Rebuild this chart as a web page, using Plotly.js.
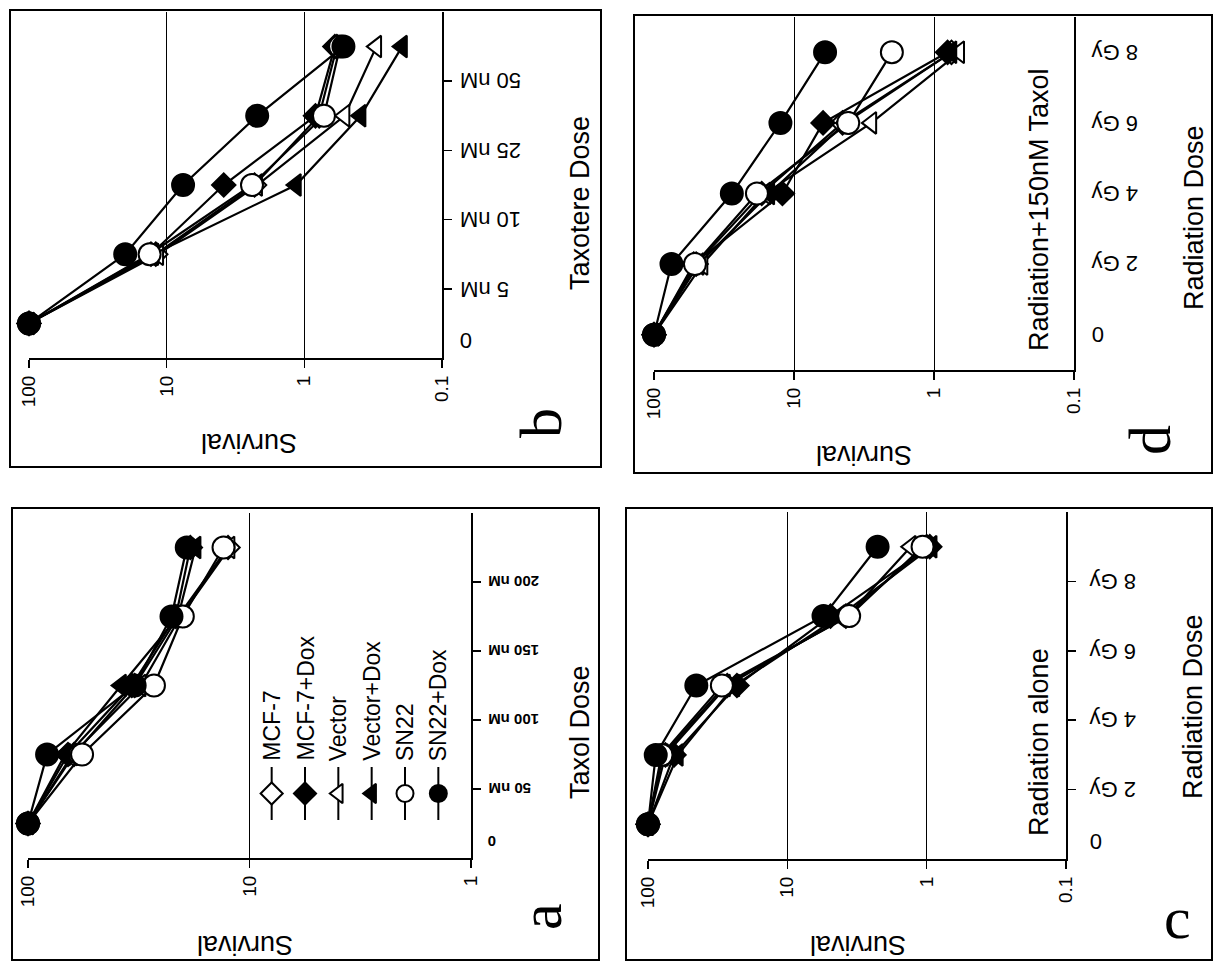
<!DOCTYPE html>
<html><head>
<script src="https://cdn.plot.ly/plotly-3.0.1.min.js"></script>
<style>body{margin:0;background:#fff}</style>
</head><body>
<div id="chart" style="width:1214px;height:967px"></div>
<script>
// ---------------- data ----------------
const seriesNames = ["MCF-7", "MCF-7+Dox", "Vector", "Vector+Dox", "SN22", "SN22+Dox"];

// panel a: Taxol
const taxolLabels = ["0", "50 nM", "100 nM", "150 nM", "200 nM"];
const taxol_MCF7      = [100, 62, 33, 21, 12.5];
const taxol_MCF7Dox   = [100, 66, 34, 21.5, 18.5];
const taxol_Vector    = [100, 63, 31, 20.5, 12.3];
const taxol_VectorDox = [100, 68, 38, 21, 17.5];
const taxol_SN22      = [100, 57, 27, 20, 13.1];
const taxol_SN22Dox   = [100, 82, 33, 22.5, 19.2];

// panel b: Taxotere
const taxotereLabels = ["0", "5 nM", "10 nM", "25 nM", "50 nM"];
const taxotere_MCF7      = [100, 12, 2.3, 0.78, 0.58];
const taxotere_MCF7Dox   = [100, 13, 3.85, 0.83, 0.6];
const taxotere_Vector    = [100, 11.5, 2.2, 0.51, 0.30];
const taxotere_VectorDox = [100, 12.5, 1.15, 0.39, 0.195];
const taxotere_SN22      = [100, 13.3, 2.4, 0.72, 0.55];
const taxotere_SN22Dox   = [100, 20, 7.6, 2.2, 0.52];

// panel c: Radiation alone
const radLabels = ["0", "2 Gy", "4 Gy", "6 Gy", "8 Gy"];
const rad_MCF7      = [100, 75, 27, 3.8, 1.0];
const rad_MCF7Dox   = [100, 65, 23, 4.9, 0.95];
const rad_Vector    = [100, 78, 28, 3.7, 1.3];
const rad_VectorDox = [100, 61, 24, 4.2, 0.92];
const rad_SN22      = [100, 80, 29.5, 3.6, 1.07];
const rad_SN22Dox   = [100, 88, 45, 5.5, 2.25];

// panel d: Radiation + 150nM Taxol
const radTax_MCF7      = [100, 50, 17, 4.5, 0.75];
const radTax_MCF7Dox   = [100, 52, 12.1, 6.2, 0.8];
const radTax_Vector    = [100, 45, 16, 2.8, 0.66];
const radTax_VectorDox = [100, 48, 15, 4.3, 0.75];
const radTax_SN22      = [100, 51, 18.4, 4.1, 2.0];
const radTax_SN22Dox   = [100, 75, 27.8, 12.5, 6.0];

const survTicks = [100, 10, 1, 0.1];
const survTickText = ["100", "10", "1", "0.1"];

// ---------------- styles ----------------
const symbols = ["diamond", "diamond", "triangle-left", "triangle-left", "circle", "circle"];
const fills   = ["white", "black", "white", "black", "white", "black"];
const msizes  = [18, 18, 19, 19, 22, 22];
const FONT = "Liberation Sans, Arial, sans-serif";
const SERIF = "Liberation Serif, Times New Roman, serif";
const W = 1214, H = 967;
const px = v => v / W;
const py = v => 1 - v / H;
const dX = (a, b) => [a / W, b / W];
const dY = (top, bot) => [1 - bot / H, 1 - top / H];

const panels = [
  {id: "", labels: taxotereLabels, vals: [taxotere_MCF7, taxotere_MCF7Dox, taxotere_Vector, taxotere_VectorDox, taxotere_SN22, taxotere_SN22Dox],
   xd: dX(29, 442), yd: dY(12, 358), range: [2, -1], offset: true, tickSize: 22, bold: false, lshift: 16},
  {id: "2", labels: radLabels, vals: [radTax_MCF7, radTax_MCF7Dox, radTax_Vector, radTax_VectorDox, radTax_SN22, radTax_SN22Dox],
   xd: dX(654, 1074), yd: dY(17, 370), range: [2, -1], offset: false, tickSize: 22, bold: false, lshift: 16},
  {id: "3", labels: taxolLabels, vals: [taxol_MCF7, taxol_MCF7Dox, taxol_Vector, taxol_VectorDox, taxol_SN22, taxol_SN22Dox],
   xd: dX(28, 471), yd: dY(513, 858), range: [2, 0], offset: true, tickSize: 15, bold: true, lshift: 15},
  {id: "4", labels: radLabels, vals: [rad_MCF7, rad_MCF7Dox, rad_Vector, rad_VectorDox, rad_SN22, rad_SN22Dox],
   xd: dX(648, 1066), yd: dY(512, 859), range: [2, -1], offset: true, tickSize: 22, bold: false, lshift: 22}
];

const traces = [];
const layout = {
  width: W, height: H, margin: {l: 0, r: 0, t: 0, b: 0},
  paper_bgcolor: "white", plot_bgcolor: "rgba(0,0,0,0)",
  showlegend: false, font: {family: FONT, color: "black"},
  annotations: [], shapes: []
};

panels.forEach(p => {
  const idx = p.labels.map((_, i) => i);
  p.vals.forEach((v, s) => {
    traces.push({
      type: "scatter", mode: "lines+markers", name: seriesNames[s],
      x: v, y: idx, xaxis: "x" + p.id, yaxis: "y" + p.id,
      line: {color: "black", width: 2.2},
      marker: {symbol: symbols[s], size: msizes[s], color: fills[s], line: {color: "black", width: 2}},
      cliponaxis: false
    });
  });
  const sv = survTicks.filter(t => Math.log10(t) >= Math.min(...p.range) - 1e-9);
  const st = sv.map(t => survTickText[survTicks.indexOf(t)]);
  layout["xaxis" + p.id] = {
    type: "log", range: p.range, domain: p.xd, anchor: "y" + p.id,
    tickmode: "array", tickvals: sv, ticktext: st, tickangle: -90,
    ticks: "outside", ticklen: 8, tickwidth: 1.5, tickcolor: "black",
    showgrid: true, gridcolor: "black", gridwidth: 1,
    showline: true, linecolor: "black", linewidth: 2, zeroline: false,
    tickfont: {size: 19, family: FONT, color: "black"}, fixedrange: true
  };
  const tv = p.offset ? idx.map(i => i === 0 ? -0.25 : i - 0.5) : idx;
  const ya = {
    range: [-0.5, 4.5], domain: p.yd, anchor: "x" + p.id, side: "right",
    showline: true, linecolor: "black", linewidth: 2, showgrid: false, zeroline: false,
    tickmode: "array", tickvals: tv, ticktext: p.labels, showticklabels: false, ticks: "",
    fixedrange: true
  };
  if (p.offset) {
    ya.minor = {tickmode: "array", tickvals: idx.slice(1).map(i => i - 0.5), ticks: "outside", ticklen: 8, tickwidth: 1.5, tickcolor: "black"};
  }
  layout["yaxis" + p.id] = ya;
  // dose tick labels, rotated 180 degrees, anchored at their left edge
  p.labels.forEach((lab, i) => {
    layout.annotations.push({
      xref: "x" + p.id + " domain", yref: "y" + p.id, x: 1, y: tv[i], xshift: p.lshift,
      text: p.bold ? "<b>" + lab + "</b>" : lab, showarrow: false, textangle: 180,
      xanchor: "left", yanchor: "middle",
      font: {size: p.tickSize, family: FONT, color: "black"}
    });
  });
});

// legend (inside panel a) on its own hidden axes
seriesNames.forEach((nm, s) => {
  traces.push({
    type: "scatter", mode: "lines", x: [s, s], y: [-1, 1],
    xaxis: "x5", yaxis: "y5", hoverinfo: "skip",
    line: {color: "black", width: 2}
  });
  traces.push({
    type: "scatter", mode: "markers", x: [s], y: [0],
    xaxis: "x5", yaxis: "y5", hoverinfo: "skip",
    marker: {symbol: symbols[s], size: 17, color: fills[s], line: {color: "black", width: 2}}
  });
  layout.annotations.push({
    xref: "x5", yref: "y5", x: s, y: 1, yshift: 4, text: nm, showarrow: false,
    textangle: -90, xanchor: "center", yanchor: "bottom",
    font: {size: 23, family: FONT, color: "black"}
  });
});
layout.xaxis5 = {domain: dX(255, 455), range: [-0.5, 5.5], visible: false, fixedrange: true, anchor: "y5"};
layout.yaxis5 = {domain: dY(767, 820), range: [-1, 1], visible: false, fixedrange: true, anchor: "x5"};

// texts
function txt(t, x, y, angle, size, family) {
  layout.annotations.push({xref: "paper", yref: "paper", x: px(x), y: py(y), text: t, showarrow: false,
    textangle: angle, xanchor: "center", yanchor: "middle",
    font: {size: size, family: family || FONT, color: "black"}});
}
// panel b
txt("Survival", 249, 443, 180, 27);
txt("Taxotere Dose", 580, 203, -90, 27);
txt("b", 541, 423, -90, 60, SERIF);
// panel d
txt("Survival", 864, 455, 180, 27);
txt("Radiation Dose", 1194, 218, -90, 27);
txt("Radiation+150nM Taxol", 1039, 210, -90, 27);
txt("d", 1150, 440, -90, 60, SERIF);
// panel a
txt("Survival", 245, 945, 180, 27);
txt("Taxol Dose", 580, 732, -90, 27);
txt("a", 541, 917, -90, 60, SERIF);
// panel c
txt("Survival", 858, 945, 180, 27);
txt("Radiation Dose", 1193, 707, -90, 27);
txt("Radiation alone", 1039, 742, -90, 27);
txt("c", 1177, 918, 0, 60, SERIF);

// panel boxes
[[10, 10, 601, 467], [634, 15, 1212, 473], [12, 508, 599, 960], [626, 508, 1212, 960]].forEach(b => {
  layout.shapes.push({type: "rect", xref: "paper", yref: "paper", x0: px(b[0]), x1: px(b[2]), y0: py(b[3]), y1: py(b[1]),
    line: {color: "black", width: 2}, fillcolor: "rgba(0,0,0,0)"});
});

Plotly.newPlot("chart", traces, layout, {staticPlot: true});
</script>
</body></html>
